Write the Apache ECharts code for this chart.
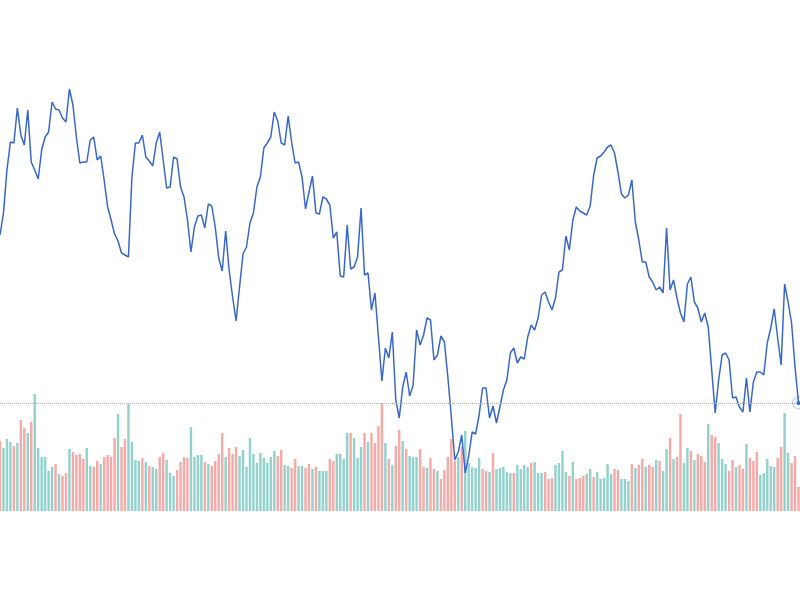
<!DOCTYPE html>
<html>
<head>
<meta charset="utf-8">
<script src="https://cdn.jsdelivr.net/npm/echarts@6/dist/echarts.min.js"></script>
<style>html,body{margin:0;padding:0;background:#fff}#c{width:800px;height:600px}</style>
</head>
<body>
<div id="c"></div>
<script>
// price (line) values
var closes = [
365,387,430,458,457,492,465,455,490,438,
430,421,450,463,468,498,491,490,482,478,
511,495,463,437,438,438,460,463,440,444,
420,393,380,366,359,347,345,343,423,457,
457,465,443,439,434,457,468,440,412,413,
443,441,413,403,380,348,373,384,385,372,
396,394,373,342,329,369,330,303,279,313,
346,353,377,387,413,423,452,457,463,488,
479,457,455,484,458,437,438,423,391,408,
424,387,386,403,401,395,362,368,324,323,
375,331,333,343,392,325,327,290,307,263,
219,252,242,268,200,182,213,228,204,215,
270,255,265,282,280,240,245,264,258,223,
183,140,148,165,127,144,168,166,185,212,
212,182,194,177,193,210,220,247,252,237,
243,241,263,275,270,282,305,308,298,290,
302,328,330,364,350,380,393,389,387,385,
394,425,442,444,448,453,455,447,428,406,
402,405,420,378,360,338,338,323,318,310,
313,307,372,310,320,302,287,278,316,323,
298,292,278,287,273,230,187,220,245,247,
240,202,203,193,188,222,188,218,228,228,
225,257,272,291,262,235,316,298,277,233,
197
];
// volume values
var volumes = [
70,63,72,69,65,68,91,83,78,89,
117,63,54,54,40,44,47,37,35,38,
62,59,56,57,52,63,45,44,50,47,
54,56,54,73,97,64,72,107,69,51,
50,53,49,45,44,42,54,58,51,38,
35,41,49,54,53,84,54,56,56,49,
47,45,50,57,78,54,63,57,64,55,
61,44,73,57,48,58,53,48,54,60,
55,61,46,45,43,52,45,45,43,47,
42,44,40,40,40,52,50,57,57,52,
78,78,73,53,64,78,69,78,68,85,
108,68,52,46,65,81,70,62,55,54,
54,62,44,43,53,42,40,32,41,54,
72,50,54,64,80,48,44,43,53,42,
40,39,58,42,43,44,39,38,38,46,
42,46,44,48,49,38,38,39,32,33,
46,48,60,39,35,49,32,33,35,37,
42,34,39,32,33,47,37,42,41,32,
32,30,47,43,46,52,44,46,44,51,
50,40,62,73,52,54,97,48,63,60,
51,57,55,49,87,76,74,68,52,47,
40,51,44,46,42,67,53,50,59,36,
38,52,45,44,53,64,98,58,48,55,
24
];
// volume bar direction: 'r' = red bar, 'g' = green bar
var directions = [
'rgggrgrrgr','ggggggrgrr','grrrrggrrg','rrrrgrrggg',
'grgrggrrgg','grrrrggggr','grrrrgrrrg','gggggggggg',
'rrggrrggrr','grgggrrggg','grgggrgrrr','rgrgrrgrgg',
'grrgrrgrrr','rrgrgggggr','rgrgggggrg','gggrgggrrr',
'ggggrgrrrg','grgggggrrg','ggrgrrgrrg','rggrgrrggr',
'grrrgrrggg','rrgrrgrrrg','ggggrrggrr','r'
].join('').split('');
var categories = closes.map(function (_, i) { return 'D' + (i + 1); });

var lineColor = '#3867cc';
var upColor = 'rgba(239,83,80,0.5)';
var downColor = 'rgba(38,166,154,0.5)';

var chart = echarts.init(document.getElementById('c'), null, {renderer: 'canvas'});
var lastIdx = closes.length - 1;
chart.setOption({
  animation: false,
  backgroundColor: '#ffffff',
  grid: {left: 0, right: 1.5, top: 0, bottom: 89},
  xAxis: {type: 'category', data: categories, boundaryGap: false, show: false},
  yAxis: [
    {type: 'value', min: 89, max: 600, show: false, splitLine: {show: false}},
    {type: 'value', min: 0, max: 511, show: false, splitLine: {show: false}}
  ],
  series: [
    {
      type: 'bar',
      yAxisIndex: 1,
      barWidth: '70%',
      data: volumes.map(function (v, i) {
        return {value: v, itemStyle: {color: directions[i] === 'r' ? upColor : downColor}};
      }),
      z: 1
    },
    {
      type: 'line',
      data: closes,
      showSymbol: false,
      symbol: 'none',
      lineStyle: {color: lineColor, width: 1.5},
      itemStyle: {color: lineColor},
      z: 3,
      markLine: {
        silent: true,
        symbol: 'none',
        label: {show: false},
        lineStyle: {type: 'dotted', color: '#b0b0b0', width: 1},
        data: [{yAxis: closes[lastIdx]}]
      },
      markPoint: {
        silent: true,
        label: {show: false},
        data: [
          {coord: [lastIdx, closes[lastIdx]], symbol: 'circle', symbolSize: 12,
           itemStyle: {color: 'rgba(56,103,204,0.06)', borderColor: 'rgba(56,103,204,0.35)', borderWidth: 1}},
          {coord: [lastIdx, closes[lastIdx]], symbol: 'circle', symbolSize: 4,
           itemStyle: {color: lineColor}}
        ]
      }
    }
  ]
});
</script>
</body>
</html>
